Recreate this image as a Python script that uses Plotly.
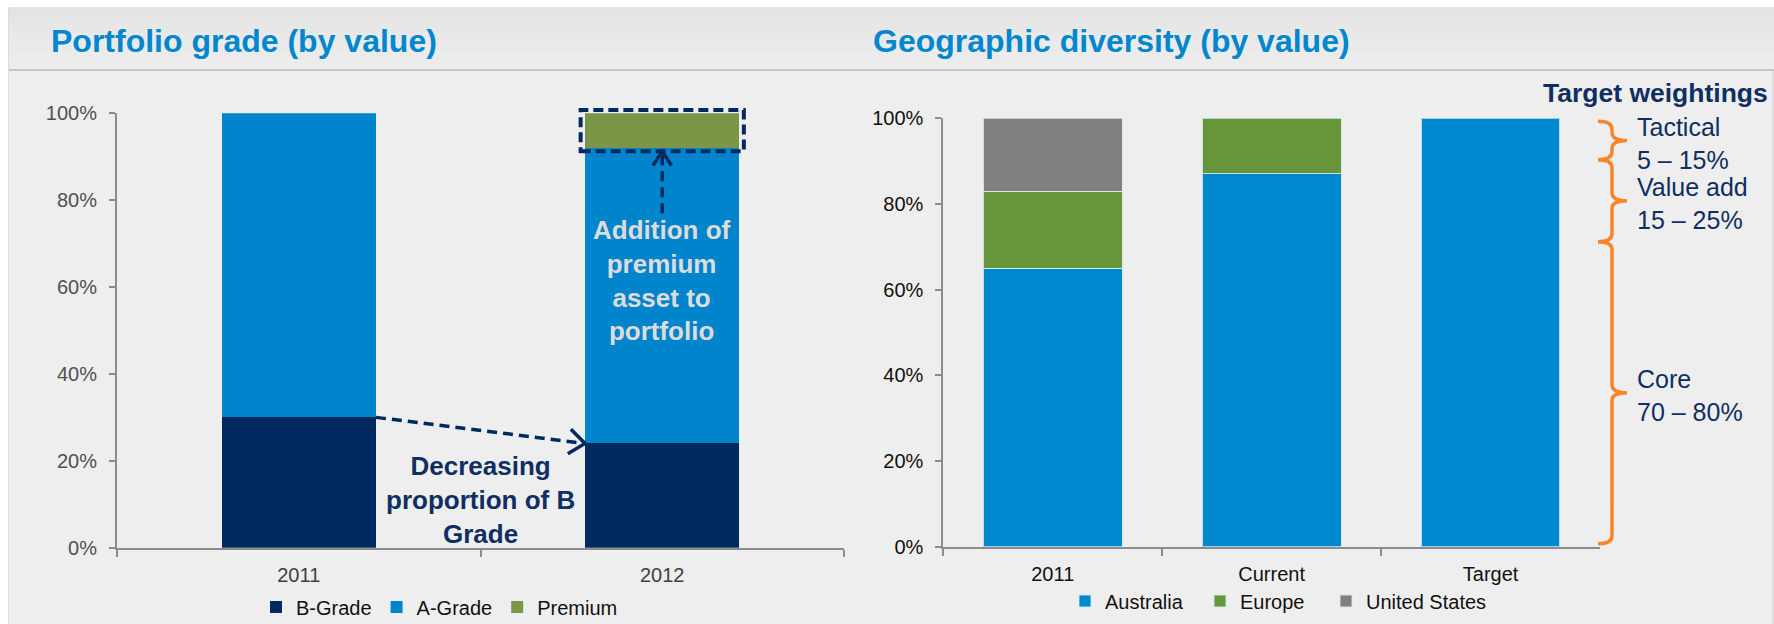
import math
import plotly.graph_objects as go

W, H = 1774, 624

# ---- Portfolio grade (share of value, %) ----
grade_years = ["2011", "2012"]
b_grade = [30, 24]
a_grade = [70, 68]
premium = [None, 8]

# ---- Geographic diversity (share of value, %) ----
geo_periods = ["2011", "Current", "Target"]
australia = [65, 87, 100]
europe = [18, 13, None]
united_states = [17, None, None]

pct_ticks = [0, 20, 40, 60, 80, 100]
pct_labels = [f"{v}%" for v in pct_ticks]

# ---- Target weighting brackets (top to bottom, % of the Target bar) ----
weight_names = ["Tactical", "Value add", "Core"]
weight_ranges = ["5 – 15%", "15 – 25%", "70 – 80%"]
bracket_edges = [99.3, 90.3, 71.2, 0.7]

# colours
NAVY = "#002960"
A_BLUE = "#0085CC"
PREMIUM_GREEN = "#7A9646"
AUS_BLUE = "#0088CE"
EUR_GREEN = "#67963A"
US_GREY = "#808080"
ORANGE = "#F7862A"
TITLE_BLUE = "#0087CD"
TEXT_NAVY = "#0F2F62"
AXIS_GREY = "#8C8C8C"
FONT = "Liberation Sans, Arial, sans-serif"

# subplot geometry (pixels)
L_X0, L_X1, L_Y_TOP, L_Y_BOT = 117, 844, 113.3, 547.7
R_X0, R_X1, R_Y_TOP, R_Y_BOT = 943.3, 1600, 118.3, 546.7
BAR_W_LEFT = 0.425
BAR_W_RIGHT = 0.634


def px(x):
    return x / W


def py(y):
    return (H - y) / H


fig = go.Figure()

# Portfolio grade bars
for vals, name, col in [(b_grade, "B-Grade", NAVY),
                        (a_grade, "A-Grade", A_BLUE),
                        (premium, "Premium", PREMIUM_GREEN)]:
    fig.add_trace(go.Bar(
        x=grade_years, y=vals, name=name, width=BAR_W_LEFT,
        marker=dict(color=col, line=dict(width=0)),
        xaxis="x", yaxis="y", legend="legend", hoverinfo="skip",
    ))

# Geographic diversity bars
for vals, name, col, leg in [(australia, "Australia", AUS_BLUE, "legend2"),
                             (europe, "Europe", EUR_GREEN, "legend2"),
                             (united_states, "United States", US_GREY, "legend3")]:
    fig.add_trace(go.Bar(
        x=geo_periods, y=vals, name=name, width=BAR_W_RIGHT,
        marker=dict(color=col, line=dict(width=1, color="rgba(215,232,240,0.9)")),
        xaxis="x2", yaxis="y2", legend=leg, hoverinfo="skip",
    ))

shapes = []

# page panel and heading band
shapes.append(dict(type="rect", xref="paper", yref="paper", x0=px(8), x1=1, y0=0, y1=py(7),
                   fillcolor="#EEEEEE", line=dict(width=0), layer="below"))
band_cols = ["#E3E3E3", "#E5E5E5", "#E7E7E7", "#E9E9E9", "#EAEAEA", "#EBEBEB", "#ECECEC"]
band_top, band_bot = 7, 69
step = (band_bot - band_top) / len(band_cols)
for i, c in enumerate(band_cols):
    shapes.append(dict(type="rect", xref="paper", yref="paper",
                       x0=px(8), x1=1, y0=py(band_top + (i + 1) * step), y1=py(band_top + i * step),
                       fillcolor=c, line=dict(width=0), layer="below"))
shapes.append(dict(type="line", xref="paper", yref="paper", x0=px(8), x1=1, y0=py(70), y1=py(70),
                   line=dict(color="#C6C6C6", width=2), layer="below"))
shapes.append(dict(type="line", xref="paper", yref="paper", x0=px(8.5), x1=px(8.5), y0=0, y1=py(7),
                   line=dict(color="#DCDCDC", width=1), layer="below"))
shapes.append(dict(type="line", xref="paper", yref="paper", x0=px(1773), x1=px(1773), y0=0, y1=py(70),
                   line=dict(color="#C8C8C8", width=1), layer="below"))

# pixel scales of the two subplots
x_unit_px = (L_X1 - L_X0) / 2.0
y_unit_px = (L_Y_BOT - L_Y_TOP) / 100.0
y2_unit_px = (R_Y_BOT - R_Y_TOP) / 100.0


def chevron(dx, dy, length=20, spread=38):
    """Open arrow head at the origin pointing along (dx, dy) in pixels (y up)."""
    ang = math.atan2(dy, dx)
    pts = []
    for s in (spread, -spread):
        a = ang + math.pi + math.radians(s)
        pts.append((length * math.cos(a), length * math.sin(a)))
    return "M{:.1f},{:.1f} L0,0 L{:.1f},{:.1f}".format(pts[0][0], pts[0][1], pts[1][0], pts[1][1])


# dashed arrow: B-Grade 2011 -> B-Grade 2012
hx0, hy0 = 0 + BAR_W_LEFT / 2, b_grade[0]
hx1, hy1 = 1 - BAR_W_LEFT / 2, b_grade[1]
shapes.append(dict(type="line", xref="x", yref="y", x0=hx0, y0=hy0, x1=hx1 - 0.01, y1=hy1 + 0.1,
                   line=dict(color=NAVY, width=3.5, dash="10px,6px")))
shapes.append(dict(type="path", xref="x", yref="y", xsizemode="pixel", ysizemode="pixel",
                   xanchor=hx1, yanchor=hy1,
                   path=chevron((hx1 - hx0) * x_unit_px, (hy1 - hy0) * y_unit_px),
                   line=dict(color=NAVY, width=3.5)))

# dashed frame around the premium slice
pad_x, pad_y = 0.012, 0.75
prem_base = b_grade[1] + a_grade[1]
prem_top = prem_base + premium[1]
shapes.append(dict(type="rect", xref="x", yref="y domain",
                   x0=1 - BAR_W_LEFT / 2 - pad_x, x1=1 + BAR_W_LEFT / 2 + pad_x,
                   y0=(prem_base - pad_y) / 100, y1=(prem_top + pad_y) / 100,
                   line=dict(color=NAVY, width=4, dash="10px,5px")))

# dashed arrow pointing up at the premium slice
arrow_tip = prem_base - pad_y
shapes.append(dict(type="line", xref="x", yref="y", x0=1, x1=1, y0=77, y1=arrow_tip - 0.5,
                   line=dict(color=NAVY, width=3.5, dash="10px,6px")))
shapes.append(dict(type="path", xref="x", yref="y", xsizemode="pixel", ysizemode="pixel",
                   xanchor=1, yanchor=arrow_tip,
                   path=chevron(0, 1, length=17, spread=33),
                   line=dict(color=NAVY, width=3.5)))

# curly brackets for the target weightings
bx_left, bx_mid, bx_tip = px(1598), px(1612), px(1627)
r = 8 / y2_unit_px
for top, bot in zip(bracket_edges[:-1], bracket_edges[1:]):
    mid = (top + bot) / 2
    path = ("M{l},{t} Q{m},{t} {m},{t_r} L{m},{mid_r1} Q{m},{mid} {tip},{mid} "
            "Q{m},{mid} {m},{mid_r2} L{m},{b_r} Q{m},{b} {l},{b}").format(
        l=bx_left, m=bx_mid, tip=bx_tip, t=top, t_r=top - r, mid=mid,
        mid_r1=mid + r, mid_r2=mid - r, b_r=bot + r, b=bot)
    shapes.append(dict(type="path", xref="paper", yref="y2", path=path,
                       line=dict(color=ORANGE, width=3.5)))

annotations = [
    dict(text="Portfolio grade (by value)", xref="paper", yref="paper", x=px(49), y=py(41),
         xanchor="left", yanchor="middle", showarrow=False,
         font=dict(family=FONT, size=32, color=TITLE_BLUE, weight="bold")),
    dict(text="Geographic diversity (by value)", xref="paper", yref="paper", x=px(871), y=py(41),
         xanchor="left", yanchor="middle", showarrow=False,
         font=dict(family=FONT, size=32, color=TITLE_BLUE, weight="bold")),
    dict(text="Decreasing<br>proportion of B<br>Grade", xref="x", yref="y", x=0.5, y=11,
         showarrow=False, align="center",
         font=dict(family=FONT, size=26, color=TEXT_NAVY, weight="bold")),
    dict(text="Addition of<br>premium<br>asset to<br>portfolio", xref="x", yref="y", x=1, y=61.6,
         showarrow=False, align="center",
         font=dict(family=FONT, size=26, color="#DCDCDC", weight="bold")),
    dict(text="Target weightings", xref="paper", yref="paper", x=px(1770), y=py(93),
         xanchor="right", yanchor="middle", showarrow=False,
         font=dict(family=FONT, size=26.5, color=TEXT_NAVY, weight="bold")),
]
# bracket labels, two lines each, placed by pixel offset from the bracket tip
for name, rng, top, bot in zip(weight_names, weight_ranges, bracket_edges[:-1], bracket_edges[1:]):
    mid = (top + bot) / 2
    for txt, off in ((name, 14), (rng, -19)):
        annotations.append(dict(text=txt, xref="paper", yref="y2", x=px(1635), y=mid + off / y2_unit_px,
                                xanchor="left", yanchor="middle", showarrow=False, align="left",
                                font=dict(family=FONT, size=25, color=TEXT_NAVY)))

y_common = dict(range=[0, 100], tickmode="array", tickvals=pct_ticks, ticktext=pct_labels,
                showgrid=False, zeroline=False,
                showline=True, linecolor=AXIS_GREY, linewidth=2, ticks="outside", ticklen=6,
                tickwidth=2, tickcolor=AXIS_GREY, ticklabelstandoff=8, fixedrange=True)
x_common = dict(type="category", showgrid=False, zeroline=False, showline=True, linecolor=AXIS_GREY,
                linewidth=2, ticks="outside", tickson="boundaries", ticklen=7, tickwidth=2,
                tickcolor=AXIS_GREY, ticklabelstandoff=8, fixedrange=True)

legend_common = dict(orientation="h", xanchor="left", yanchor="middle", traceorder="normal",
                     bgcolor="rgba(0,0,0,0)", font=dict(family=FONT, size=20, color="#111111"))

fig.update_layout(
    width=W, height=H,
    margin=dict(l=0, r=0, t=0, b=0, autoexpand=False),
    paper_bgcolor="white",
    plot_bgcolor="rgba(0,0,0,0)",
    barmode="stack",
    font=dict(family=FONT),
    xaxis=dict(domain=[px(L_X0), px(L_X1)], range=[-0.5, 1.5], anchor="y",
               tickfont=dict(size=20, color="#404040"), **x_common),
    yaxis=dict(domain=[py(L_Y_BOT), py(L_Y_TOP)], anchor="x",
               tickfont=dict(size=20, color="#505050"), **y_common),
    xaxis2=dict(domain=[px(R_X0), px(R_X1)], range=[-0.5, 2.5], anchor="y2",
                tickfont=dict(size=20, color="#111111"), **x_common),
    yaxis2=dict(domain=[py(R_Y_BOT), py(R_Y_TOP)], anchor="x2",
                tickfont=dict(size=20, color="#111111"), **y_common),
    legend=dict(x=px(256), y=py(607), **legend_common),
    legend2=dict(x=px(1065), y=py(601), entrywidth=90, **legend_common),
    legend3=dict(x=px(1326), y=py(601), **legend_common),
    shapes=shapes,
    annotations=annotations,
    showlegend=True,
)

fig.write_html("out.html", config={"displayModeBar": False})
